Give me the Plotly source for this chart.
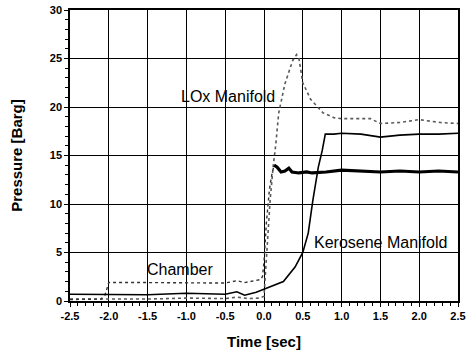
import plotly.graph_objects as go

# ---- data ----
lox_t = [-2.5, -1.5, -1.0, -0.5, -0.35, -0.2, -0.05, 0.0, 0.02, 0.05, 0.08, 0.12, 0.15, 0.19, 0.27, 0.37, 0.42,
         0.45, 0.5, 0.6, 0.76, 0.9, 1.0, 1.37, 1.5, 1.75, 2.0, 2.27, 2.5]
lox_p = [0.2, 0.2, 0.3, 0.25, 0.4, 0.25, 0.3, 0.5, 3.0, 7.0, 10.5, 14.0, 16.0, 19.4, 22.4, 24.8, 25.4,
         25.0, 22.5, 20.8, 19.4, 18.9, 18.8, 18.8, 18.3, 18.4, 18.7, 18.4, 18.3]

chamber_pre_t = [-2.5, -2.1, -2.05, -2.0, -1.5, -1.0, -0.5, -0.35, -0.25, -0.05, -0.02, 0.0, 0.03, 0.07, 0.1, 0.13]
chamber_pre_p = [0.15, 0.2, 0.6, 1.9, 1.9, 1.85, 1.85, 2.1, 1.9, 2.2, 2.5, 4.0, 8.0, 11.5, 13.0, 14.0]

chamber_post_t = [0.13, 0.17, 0.22, 0.27, 0.32, 0.36, 0.45, 0.55, 0.62,
                  0.8, 1.0, 1.25, 1.5, 1.75, 2.0, 2.25, 2.5]
chamber_post_p = [14.0, 13.8, 13.3, 13.4, 13.7, 13.3, 13.2, 13.3, 13.2,
                  13.3, 13.5, 13.4, 13.3, 13.4, 13.3, 13.4, 13.3]

kero_t = [-2.5, -1.5, -1.0, -0.5, -0.35, -0.25, -0.1, 0.0, 0.1, 0.25, 0.4, 0.5, 0.57, 0.63, 0.7, 0.75,
          0.79, 0.9, 1.0, 1.25, 1.5, 1.6, 1.75, 2.0, 2.25, 2.5]
kero_p = [0.7, 0.65, 0.8, 0.7, 0.95, 0.6, 0.9, 1.2, 1.5, 2.0, 3.5, 5.0, 7.0, 10.4, 13.8, 15.5,
          17.2, 17.2, 17.3, 17.2, 16.9, 17.0, 17.1, 17.2, 17.2, 17.3]

x_ticks = [-2.5, -2.0, -1.5, -1.0, -0.5, 0.0, 0.5, 1.0, 1.5, 2.0, 2.5]
x_labels = ["-2.5", "-2.0", "-1.5", "-1.0", "-0.5", "0.0", "0.5", "1.0", "1.5", "2.0", "2.5"]
y_ticks = [0, 5, 10, 15, 20, 25, 30]

FONT = "Liberation Sans, Arial, sans-serif"

fig = go.Figure()
fig.add_trace(go.Scatter(x=lox_t, y=lox_p, mode="lines", name="LOx Manifold",
                         line=dict(color="#5a5a5a", width=1.6, dash="dot")))
fig.add_trace(go.Scatter(x=chamber_pre_t, y=chamber_pre_p, mode="lines", name="Chamber",
                         line=dict(color="#333333", width=1.4, dash="dot")))
fig.add_trace(go.Scatter(x=chamber_post_t, y=chamber_post_p, mode="lines", name="Chamber",
                         line=dict(color="#000000", width=3.2)))
fig.add_trace(go.Scatter(x=kero_t, y=kero_p, mode="lines", name="Kerosene Manifold",
                         line=dict(color="#000000", width=1.6)))

fig.add_annotation(x=-0.46, y=21.1, text="LOx Manifold", showarrow=False,
                   font=dict(family=FONT, size=16, color="black"))
fig.add_annotation(x=-1.08, y=3.2, text="Chamber", showarrow=False,
                   font=dict(family=FONT, size=16, color="black"))
fig.add_annotation(x=1.5, y=6.0, text="Kerosene Manifold", showarrow=False,
                   font=dict(family=FONT, size=16, color="black"))

axis_common = dict(showline=True, linecolor="black", linewidth=1.5, mirror=True,
                   showgrid=True, gridcolor="#000000", gridwidth=1.4,
                   ticks="outside", ticklen=4, tickcolor="black", tickwidth=1.2,
                   zeroline=False,
                   tickfont=dict(family=FONT, size=11, color="black", weight="bold"))

fig.update_xaxes(range=[-2.5, 2.5], tickvals=x_ticks, ticktext=x_labels,
                 minor=dict(dtick=0.1, ticks="outside", ticklen=3, tickcolor="black", showgrid=False),
                 title=dict(text="Time [sec]", font=dict(family=FONT, size=15, color="black", weight="bold"), standoff=16),
                 **axis_common)
fig.update_yaxes(range=[0, 30], tickvals=y_ticks,
                 minor=dict(dtick=1, ticks="outside", ticklen=3, tickcolor="black", showgrid=False),
                 title=dict(text="Pressure [Barg]", font=dict(family=FONT, size=15, color="black", weight="bold"), standoff=24),
                 **axis_common)

fig.update_layout(width=471, height=350, showlegend=False,
                  margin=dict(l=70, r=13, t=10, b=49, autoexpand=False),
                  plot_bgcolor="white", paper_bgcolor="white")

fig.write_html("out.html")
